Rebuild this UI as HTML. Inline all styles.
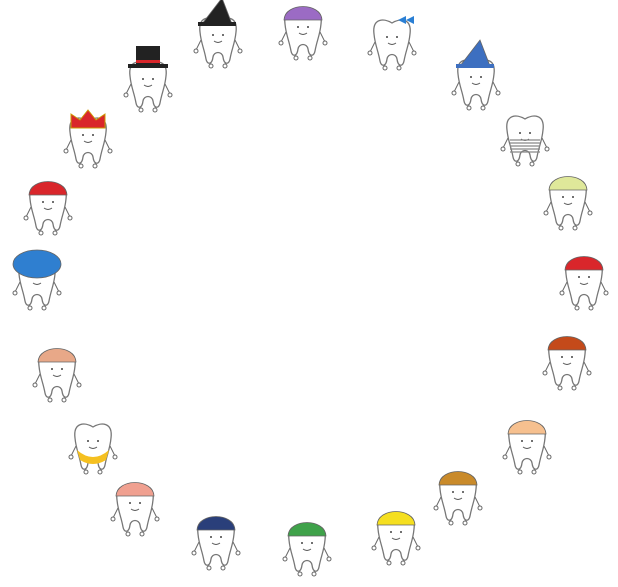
<!DOCTYPE html>
<html><head><meta charset="utf-8"><style>
html,body{margin:0;padding:0;background:#fff;width:618px;height:587px;overflow:hidden}
svg{display:block}
</style></head><body>
<svg id="s" width="618" height="587" viewBox="0 0 618 587"></svg>
<script>
const names=["purple-hat","bow","blue-nightcap","striped","green-cap","red-cap","antlers","curly-hair","monkey-hat","yellow-cap","frog-hat","police-hat","pig-hat","yellow-bib","bunny-ears","blue-afro","santa-hat","red-crown","top-hat","witch-hat"];
const cx=[303,392,476,525,568,584,567,527,458,396,307,216,135,93,57,37,48,88,148,218];
const cy=[32,42,82,138,202,282,362,446,497,537,548,542,508,446,374,282,207,140,84,40];
const hatColor=["#9b6bc4","#2a7fd4","#3d6fc0","#888","#dfe89a","#d9262b","#c44a1a","#f6c08f","#c98a2a","#f5df20","#3fa24a","#2a3f7a","#f0a090","#f5c020","#e8a888","#2f7fd0","#d9262b","#d9262b","#222","#222"];
const hatType=["cap","none","tall","none","cap","cap","cap","cap","cap","cap","cap","cap","cap","none","cap","afro","cap","crown","top","tall"];
const s=document.getElementById('s');
const NS="http://www.w3.org/2000/svg";
function mk(t,a,p){const e=document.createElementNS(NS,t);for(const k in a)e.setAttribute(k,a[k]);p.appendChild(e);return e;}
const tooth="M-18,-8 C-20,-24 -8,-24 0,-19 C8,-24 20,-24 18,-8 C17,3 14,8 12,19 C11,25 6,25 5,17 C4,11 -4,11 -5,17 C-6,25 -11,25 -12,19 C-14,8 -17,3 -18,-8Z";
for(let i=0;i<cx.length;i++){
 const g=mk('g',{transform:`translate(${cx[i]},${cy[i]})`},s);
 
 
 mk('line',{x1:-17,y1:0,x2:-22,y2:10,stroke:'#666','stroke-width':1},g);
 mk('line',{x1:17,y1:0,x2:22,y2:10,stroke:'#666','stroke-width':1},g);
 mk('circle',{cx:-22,cy:11,r:2,fill:'#fff',stroke:'#666'},g);
 mk('circle',{cx:22,cy:11,r:2,fill:'#fff',stroke:'#666'},g);
 mk('circle',{cx:-7,cy:26,r:2,fill:'#fff',stroke:'#666'},g);
 mk('circle',{cx:7,cy:26,r:2,fill:'#fff',stroke:'#666'},g);
 mk('path',{d:tooth,fill:'#fff',stroke:'#777','stroke-width':1.3},g);
 mk('circle',{cx:-5,cy:-5,r:1,fill:'#444'},g);
 mk('circle',{cx:5,cy:-5,r:1,fill:'#444'},g);
 mk('path',{d:'M-4,1 Q0,4 4,1',fill:'none',stroke:'#555','stroke-width':0.9},g);
 const c=hatColor[i],t=hatType[i];
 if(t==='cap')mk('path',{d:'M-19,-12 C-18,-30 18,-30 19,-12 Z',fill:c,stroke:'#666','stroke-width':0.8},g);
 else if(t==='tall'){mk('path',{d:'M-16,-16 L4,-42 L14,-16Z',fill:c,stroke:'#666','stroke-width':0.8},g);mk('rect',{x:-20,y:-18,width:38,height:4,fill:c},g);}
 else if(t==='top'){mk('rect',{x:-12,y:-38,width:24,height:20,fill:c},g);mk('rect',{x:-20,y:-20,width:40,height:4,fill:c},g);mk('rect',{x:-12,y:-24,width:24,height:3,fill:'#d9262b'},g);}
 else if(t==='crown'){mk('path',{d:'M-17,-12 L-17,-26 L-8,-20 L0,-30 L8,-20 L17,-26 L17,-12Z',fill:c,stroke:'#c90','stroke-width':1},g);}
 else if(t==='afro'){mk('ellipse',{cx:0,cy:-18,rx:24,ry:14,fill:c,stroke:'#666','stroke-width':0.8},g);}
 else if(i===1){mk('path',{d:'M6,-22 l8,-4 v8z M14,-22 l8,-4 v8z',fill:c},g);}
 else if(i===3){for(let k=0;k<5;k++)mk('line',{x1:-15,y1:2+k*3,x2:15,y2:2+k*3,stroke:'#888','stroke-width':1.2},g);}
 else if(i===13){mk('path',{d:'M-16,4 Q0,18 16,4 L13,14 Q0,22 -13,14Z',fill:c},g);}
}
</script>
</body></html>
